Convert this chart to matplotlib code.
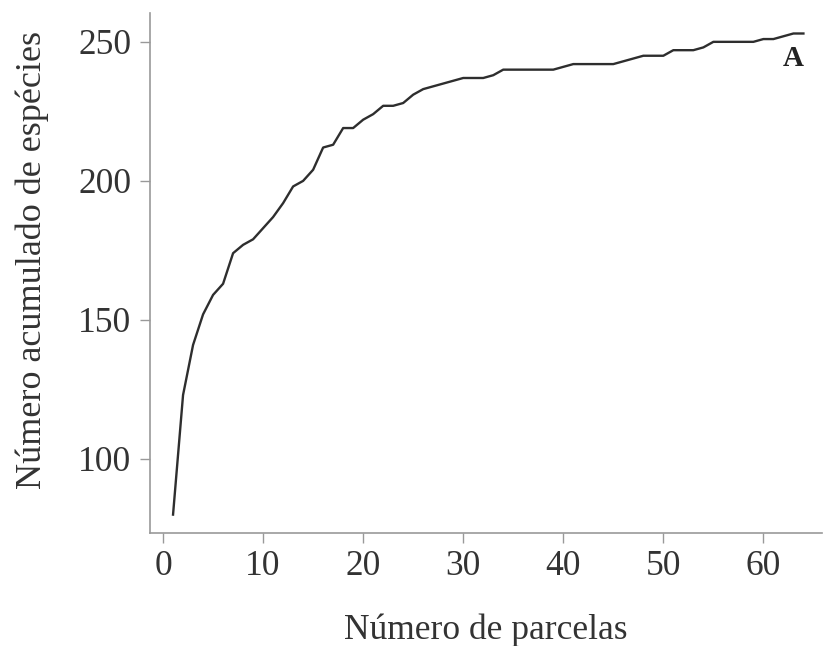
import numpy as np
import matplotlib
matplotlib.use("Agg")
import matplotlib.pyplot as plt

plt.rcParams['font.family'] = ['Liberation Serif', 'DejaVu Serif']

# parcel index and cumulative species count (curve A)
parcelas = np.arange(1, 65)
especies = [80, 123, 141, 152, 159, 163, 174, 177, 179, 183,
            187, 192, 198, 200, 204, 212, 213, 219, 219, 222,
            224, 227, 227, 228, 231, 233, 234, 235, 236, 237,
            237, 237, 238, 240, 240, 240, 240, 240, 240, 241,
            242, 242, 242, 242, 242, 243, 244, 245, 245, 245,
            247, 247, 247, 248, 250, 250, 250, 250, 250, 251,
            251, 252, 253, 253]
xticks = [0, 10, 20, 30, 40, 50, 60]
yticks = [100, 150, 200, 250]

fig = plt.figure(figsize=(8.23, 6.46), dpi=100)
ax = fig.add_axes([0.1823, 0.175, 0.817, 0.805])

ax.plot(parcelas, especies, color='#2e2e2e', linewidth=1.7)
ax.text(63.0, 244, 'A', fontsize=21, fontweight='bold', color='#222222',
        ha='center', va='center')

ax.set_xlim(-1.3, 65.9)
ax.set_ylim(73.4, 260.4)
ax.set_xticks(xticks)
ax.set_yticks(yticks)

for side in ['top', 'right']:
    ax.spines[side].set_visible(False)
for side in ['left', 'bottom']:
    ax.spines[side].set_color('#999999')
    ax.spines[side].set_linewidth(1.2)

ax.tick_params(axis='both', direction='out', length=7.5, width=1.0,
               color='#999999', labelsize=25.5, labelcolor='#333333')
ax.tick_params(axis='x', pad=5)
ax.tick_params(axis='y', pad=6)

ax.set_xlabel('Número de parcelas', fontsize=25.5, color='#333333', labelpad=22)
ax.set_ylabel('Número acumulado de espécies', fontsize=26, color='#333333')
ax.yaxis.set_label_coords(-0.151, 0.525)

fig.savefig('out.png', dpi=100)
